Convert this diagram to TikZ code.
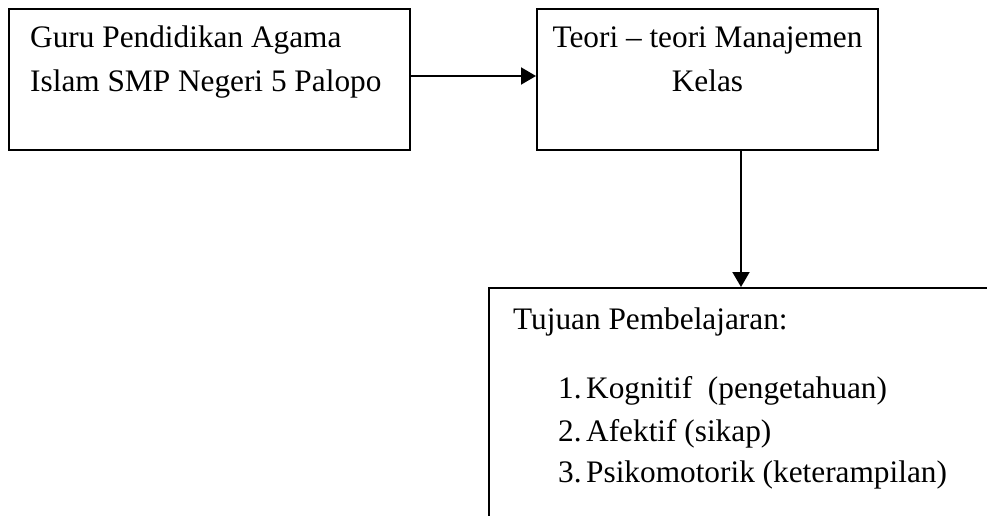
\documentclass[tikz,border=0pt]{standalone}
\usepackage{fontspec}
\setmainfont{Liberation Serif}
\usetikzlibrary{arrows.meta}
\begin{document}
\begin{tikzpicture}[x=1pt,y=-1pt,
  boxshape/.style={draw=black,line width=2pt,rectangle,inner sep=0pt,fill=none},
  txt/.style={inner sep=0pt,anchor=base west,font=\fontsize{31.3}{44}\selectfont},
  ctxt/.style={inner sep=0pt,anchor=base,font=\fontsize{31.3}{44}\selectfont},
  arr/.style={line width=2pt,-{Triangle[length=15pt,width=17pt]}}]
\useasboundingbox (0,0) rectangle (987,516);
\clip (0,0) rectangle (987,516);
% boxes
\node[boxshape,minimum width=401pt,minimum height=141pt] (b1) at (209.5,79.5) {};
\node[boxshape,minimum width=341pt,minimum height=141pt] (b2) at (707.5,79.5) {};
\node[boxshape,minimum width=540pt,minimum height=260pt] (b3) at (759,418) {};
% texts
\node[txt] (t1a) at (30,47.3) {Guru Pendidikan Agama};
\node[txt] (t1b) at (30,91.5) {Islam SMP Negeri 5 Palopo};
\node[ctxt] (t2a) at (707.5,47.3) {Teori -- teori Manajemen};
\node[ctxt] (t2b) at (707.5,91.5) {Kelas};
\node[txt] (t3) at (513,329) {Tujuan Pembelajaran:};
\node[txt] (n1) at (558,398) {1.};
\node[txt] (i1) at (586,398) {Kognitif\hspace{0.5em}(pengetahuan)};
\node[txt] (n2) at (558,441.7) {2.};
\node[txt] (i2) at (586,441.7) {Afektif (sikap)};
\node[txt] (n3) at (558,482.7) {3.};
\node[txt] (i3) at (586,482.7) {Psikomotorik (keterampilan)};
% connectors
\coordinate (a1) at (0,76);
\coordinate (a2) at (741,0);
\draw[arr] (b1.east |- a1) -- (b2.west |- a1);
\draw[arr] (b2.south -| a2) -- (b3.north -| a2);
\end{tikzpicture}
\end{document}
